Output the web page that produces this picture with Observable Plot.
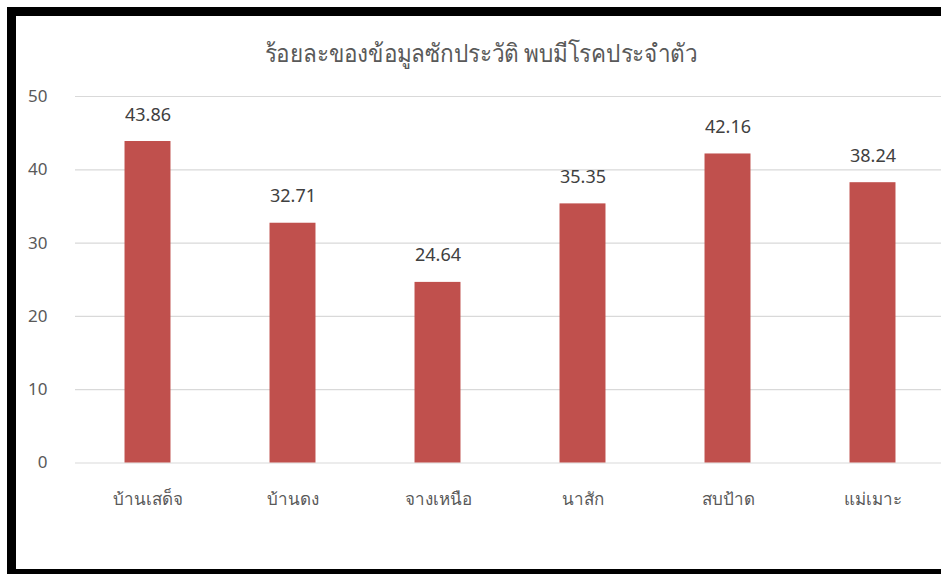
<!DOCTYPE html>
<html>
<head>
<meta charset="utf-8">
<script src="https://cdn.jsdelivr.net/npm/d3@7"></script>
<script src="https://cdn.jsdelivr.net/npm/@observablehq/plot@0.6"></script>
<style>
  html, body { margin: 0; padding: 0; background: #fff; overflow: hidden; width: 941px; height: 574px; }
  #wrap { position: relative; width: 941px; height: 574px; overflow: hidden; }
  #frame { position: absolute; left: 7px; top: 7px; width: 960px; height: 567px; border-top: 9px solid #000; border-left: 9px solid #000; border-bottom: 5px solid #000; box-sizing: border-box; z-index: 2; pointer-events: none; }
  #title { position: absolute; left: 0; top: 33px; width: 962px; text-align: center; font-family: "Noto Sans", sans-serif; font-size: 25px; color: #595959; z-index: 3; transform: scaleX(0.9); transform-origin: 481px 0; }
  #chart { position: absolute; left: 0; top: 0; width: 945px; z-index: 1; }
  #chart svg { max-width: none !important; }
</style>
</head>
<body>
<div id="wrap">
  <div id="frame"></div>
  <div id="title">ร้อยละของข้อมูลซักประวัติ พบมีโรคประจำตัว</div>
  <div id="chart"></div>
</div>
<script>
const categories = ["บ้านเสด็จ", "บ้านดง", "จางเหนือ", "นาสัก", "สบป้าด", "แม่เมาะ"];
const values = [43.86, 32.71, 24.64, 35.35, 42.16, 38.24];
const yTicks = [0, 10, 20, 30, 40, 50];

const data = categories.map((c, i) => ({category: c, value: values[i]}));

const chart = Plot.plot({
  width: 945,
  height: 574,
  marginLeft: 75,
  marginRight: 0,
  marginTop: 96,
  marginBottom: 111.5,
  style: {background: "transparent", fontFamily: "'Noto Sans', sans-serif", maxWidth: "none"},
  x: {domain: categories, paddingInner: 0.683, paddingOuter: 0.3415, round: false, label: null},
  y: {domain: [0, 50], ticks: yTicks, label: null},
  marks: [
    Plot.ruleY(yTicks, {stroke: "#d9d9d9", strokeWidth: 1.2}),
    Plot.barY(data, {x: "category", y: "value", fill: "#C0504D"}),
    Plot.text(data, {x: "category", y: "value", text: d => d.value.toFixed(2), lineAnchor: "bottom", dy: -21, fontSize: 18, fill: "#404040"}),
    Plot.axisY({ticks: yTicks, tickSize: 0, tickPadding: 28, fontSize: 17, color: "#595959", label: null}),
    Plot.axisX({tickSize: 0, tickPadding: 30, fontSize: 17, color: "#595959", label: null})
  ]
});
document.getElementById("chart").appendChild(chart);
</script>
</body>
</html>
